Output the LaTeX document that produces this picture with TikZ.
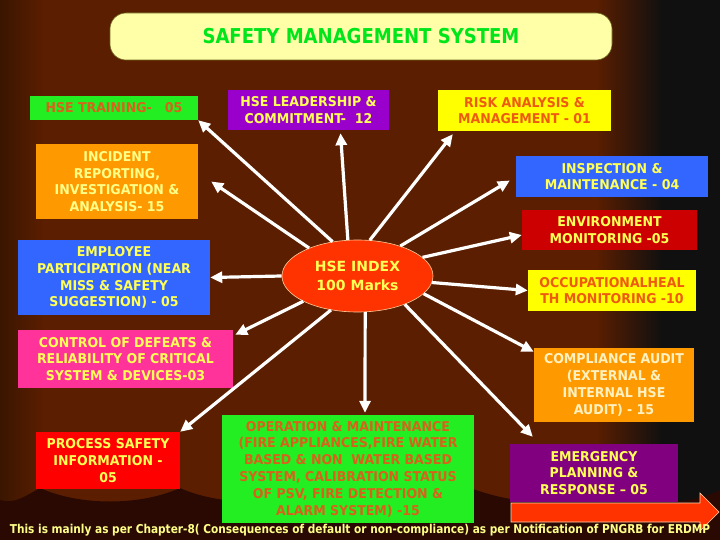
\documentclass[tikz,border=0pt]{standalone}
\usepackage{fontspec}
\usepackage{tikz}
\usetikzlibrary{shapes,arrows.meta}
\newfontfamily\boxfont{DejaVu Sans}[FakeStretch=0.93]
\newfontfamily\titlefont{DejaVu Sans}[FakeStretch=0.88]
\newfontfamily\indexfont{DejaVu Sans}
\newfontfamily\notefont{DejaVu Sans}[FakeStretch=0.865]
\definecolor{bgbrown}{HTML}{5C1E00}
\definecolor{bgred}{HTML}{900500}
\definecolor{bgedge}{HTML}{3A1600}
\definecolor{bgblack}{HTML}{101010}
\definecolor{bgdark}{HTML}{2A0903}
\definecolor{titlefill}{HTML}{FFFFA8}
\definecolor{titlegreen}{HTML}{00E61A}
\definecolor{boxgreen}{HTML}{22EE22}
\definecolor{boxpurple}{HTML}{9900CC}
\definecolor{boxplum}{HTML}{800080}
\definecolor{boxyellow}{HTML}{FFFF00}
\definecolor{boxorange}{HTML}{FF9900}
\definecolor{boxblue}{HTML}{3366FF}
\definecolor{boxdarkred}{HTML}{CC0000}
\definecolor{boxred}{HTML}{FF0000}
\definecolor{boxpink}{HTML}{FF3399}
\definecolor{indexred}{HTML}{FF3300}
\definecolor{txtyellow}{HTML}{FFFF55}
\definecolor{txtpale}{HTML}{FFFF88}
\definecolor{txtcream}{HTML}{FFF2C0}
\definecolor{txtorange}{HTML}{EE5A10}
\definecolor{txtbrown}{HTML}{D8621C}
\tikzset{
    box/.style={rectangle, inner sep=0pt, align=center,
		font=\boxfont\bfseries\fontsize{13.5}{16.8}\selectfont},
    spoke/.style={draw=white, line width=3.2pt, -{Triangle[length=12pt,width=11pt]}}
}

\begin{document}
\begin{tikzpicture}[x=1pt,y=-1pt]
	\useasboundingbox (0,0) rectangle (720,540);
	% curtain
	\fill[bgbrown] (0,0) rectangle (720,540);
	\fill[left color=bgedge, right color=bgbrown] (0,0) rectangle (45,540);
	\foreach \x/\w in {130/24, 215/22, 295/22, 360/18, 430/16, 480/24, 545/18}
		\fill[left color=bgbrown, middle color=bgred, right color=bgbrown] (\x-\w,0) rectangle (\x+\w,540);
	\fill[left color=bgbrown, right color=bgblack] (595,0) rectangle (662,540);
	\fill[bgblack] (662,0) rectangle (720,540);
	\fill[bgdark] (0,540) -- (0,500) .. controls (14,505) and (27,495) .. (40,488)
		.. controls (80,506) and (140,506) .. (180,488)
		.. controls (220,506) and (280,506) .. (320,488)
		.. controls (370,506) and (430,506) .. (470,488)
		.. controls (520,506) and (560,506) .. (600,488)
		.. controls (640,506) and (690,506) .. (720,490) -- (720,540) -- cycle;
	% title
	\node[rounded corners=16pt, fill=titlefill, draw=olive!70!black, line width=0.6pt,
		minimum width=502pt, minimum height=47pt, text=titlegreen,
		font=\titlefont\bfseries\fontsize{20.5}{22}\selectfont] (title) at (361,36.5) {SAFETY MANAGEMENT SYSTEM};
	% centre
	\node[ellipse, inner sep=0pt, minimum width=151pt, minimum height=72pt, fill=indexred,
		draw=orange!40!white, line width=0.6pt, align=center, text=txtyellow,
		font=\indexfont\bfseries\fontsize{14}{19}\selectfont] (hseindex) at (357.5,276) {HSE INDEX\\100 Marks};
	% elements
	\node[box, fill=boxgreen, text=txtbrown, minimum width=168pt, minimum height=24pt] (training) at (114,108) {HSE TRAINING-\ \ \ 05};
	\node[box, fill=boxpurple, text=txtyellow, minimum width=161pt, minimum height=40pt] (leadership) at (308.5,110) {HSE LEADERSHIP \&\\COMMITMENT-\ \ 12};
	\node[box, fill=boxyellow, text=txtorange, minimum width=173pt, minimum height=41pt] (risk) at (524.5,110.5) {RISK ANALYSIS \&\\MANAGEMENT - 01};
	\node[box, fill=boxorange, text=txtpale, minimum width=162pt, minimum height=75pt] (incident) at (117,181.5) {INCIDENT\\REPORTING,\\INVESTIGATION \&\\ANALYSIS- 15};
	\node[box, fill=boxblue, text=txtyellow, minimum width=192pt, minimum height=41pt] (inspection) at (612,176.5) {INSPECTION \&\\MAINTENANCE - 04};
	\node[box, fill=boxdarkred, text=txtyellow, minimum width=175pt, minimum height=40pt] (environment) at (609.5,230) {ENVIRONMENT\\MONITORING -05};
	\node[box, fill=boxblue, text=txtyellow, minimum width=192pt, minimum height=75pt] (employee) at (114,277.5) {EMPLOYEE\\PARTICIPATION (NEAR\\MISS \& SAFETY\\SUGGESTION) - 05};
	\node[box, fill=boxyellow, text=txtorange, minimum width=168pt, minimum height=41pt] (occhealth) at (612,290.5) {OCCUPATIONALHEAL\\TH MONITORING -10};
	\node[box, fill=boxpink, text=txtyellow, minimum width=215pt, minimum height=58pt] (control) at (125.5,359) {CONTROL OF DEFEATS \&\\RELIABILITY OF CRITICAL\\SYSTEM \& DEVICES-03};
	\node[box, fill=boxorange, text=txtcream, minimum width=160pt, minimum height=74pt] (compliance) at (614,385) {COMPLIANCE AUDIT\\(EXTERNAL \&\\INTERNAL HSE\\AUDIT) - 15};
	\node[box, fill=boxred, text=txtyellow, minimum width=144pt, minimum height=57pt] (process) at (108,460.5) {PROCESS SAFETY\\INFORMATION -\\05};
	\node[box, fill=boxgreen, text=txtbrown, minimum width=252pt, minimum height=108pt] (operation) at (348,469) {OPERATION \& MAINTENANCE\\(FIRE APPLIANCES,FIRE WATER\\BASED \& NON\ \ WATER BASED\\SYSTEM, CALIBRATION STATUS\\OF PSV, FIRE DETECTION \&\\ALARM SYSTEM) -15};
	\node[box, fill=boxplum, text=txtyellow, minimum width=168pt, minimum height=58pt] (emergency) at (594,473) {EMERGENCY\\PLANNING \&\\RESPONSE – 05};
	% spokes
	\draw[spoke] (hseindex.126) -- (training.south east);
	\draw[spoke] (hseindex.105) -- ([xshift=32pt,yshift=-3pt]leadership.south);
	\draw[spoke] (hseindex.71) -- ([xshift=15pt,yshift=-3pt]risk.south west);
	\draw[spoke] (hseindex.150) -- ([xshift=13pt]incident.east);
	\draw[spoke] (hseindex.35) -- ([xshift=-6pt,yshift=-4pt]inspection.west);
	\draw[spoke] (hseindex.16) -- ([yshift=-5pt]environment.west);
	\draw[spoke] (hseindex.-5) -- (occhealth.west);
	\draw[spoke] (hseindex.west) -- (employee.east);
	\draw[spoke] (hseindex.205) -- ([xshift=2pt,yshift=-5pt]control.north east);
	\draw[spoke] (hseindex.232) -- (process.north east);
	\draw[spoke] (hseindex.282) -- ([xshift=17pt,yshift=2pt]operation.north);
	\draw[spoke] (hseindex.-31) -- ([xshift=23pt,yshift=7pt]emergency.north west);
	\draw[spoke] (hseindex.-15) -- ([yshift=-4pt]compliance.north west);
	% block arrow
	\filldraw[fill=indexred, draw=orange!30!white, line width=0.6pt] (511,503) -- (700,503) -- (700,493) -- (719,512) -- (700,531) -- (700,522) -- (511,522) -- cycle;
	\node[text=txtpale, inner sep=0pt, font=\notefont\bfseries\fontsize{12.2}{14}\selectfont] (note) at (360,530) {This is mainly as per Chapter-8( Consequences of default or non-compliance) as per Notification of PNGRB for ERDMP};
\end{tikzpicture}
\end{document}
